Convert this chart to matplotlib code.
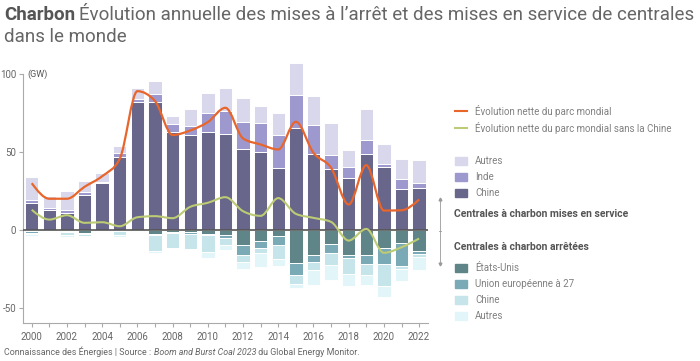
import numpy as np
import matplotlib
matplotlib.use("Agg")
import matplotlib.pyplot as plt
from matplotlib.path import Path
from matplotlib.patches import PathPatch, Rectangle
from matplotlib.lines import Line2D

plt.rcParams['font.family'] = ['Roboto', 'DejaVu Sans']

years = list(range(2000, 2023))

# mises en service (GW)
svc_chine = [17.5, 13, 11, 22.5, 30, 47, 82, 82.5, 63, 61, 63, 61.5,
             52, 50, 40, 65.5, 49, 39, 33.5, 48.5, 40.5, 26, 27]
svc_inde = [1.5, 1, 2, 1.7, 0.5, 2.5, 2, 5, 5, 5.5, 12, 15,
            17.5, 18.5, 21, 21, 18.5, 9, 7, 9, 2, 6.5, 3]
svc_autres = [15, 8, 12, 7.5, 6, 4.5, 7.5, 8, 5, 11, 13, 15,
              15, 11, 14, 21, 18.5, 20.5, 11, 20, 13, 13, 15]

# mises a l'arret (GW)
ret_us = [-1, -0.5, -1, -2, -0.5, -0.5, -1, -3, -1.5, -1.5, -2.5, -3.5,
          -10, -7, -4, -21.5, -16, -9, -16, -16, -12, -8.5, -13.5]
ret_ue = [-1, -0.3, -0.5, -0.5, -0.5, -0.5, -0.5, -0.5, -0.5, -1, -1, -1.5,
          -6, -5, -5.5, -7.5, -5, -6, -2, -6, -10, -14.5, -2]
ret_chine = [-1, -0.3, -2, -1.5, -0.5, -2.5, -0.3, -10, -9.5, -10, -10.5, -4.5,
             -4.5, -3, -9, -6, -5, -7.5, -10.5, -7, -14, -2, -2]
ret_autres = [-1, -0.3, -1, -0.5, -0.5, -1, -0.3, -1.5, -0.5, -0.5, -4, -3.5,
              -4.5, -9, -4.5, -2.5, -9.5, -9.5, -7.5, -6.5, -7.5, -8, -8.5]

net_monde = [30, 20, 20, 27.7, 34.5, 45.7, 89.2, 82.8, 61, 63.9, 69.3, 78.5,
             58.8, 54.9, 51.7, 69.5, 49.5, 39.9, 16.3, 41.6, 12.4, 12.6, 19.5]
net_sans_chine = [12.9, 6.6, 9.4, 4.5, 4.9, 2.3, 8.1, 8.8, 7.5, 14.8, 17.4, 21,
                  12, 9, 20.4, 10.3, 7.7, 5.1, -6.9, 0.6, -14.8, -11.2, -5.6]

C_SVC = ['#68668a', '#9d99cf', '#d8d7eb']
C_RET = ['#608589', '#7aaab6', '#c6e5eb', '#e2f5f8']
ORANGE = '#e8652c'
GREEN = '#bccb74'


def monotone_path(x, y):
    # courbe lissee type "monotoneX" en segments de Bezier
    x = np.asarray(x, float)
    y = np.asarray(y, float)
    n = len(x)
    h = np.diff(x)
    s = np.diff(y) / h
    m = np.zeros(n)
    for i in range(1, n - 1):
        if s[i - 1] * s[i] <= 0:
            m[i] = 0
        else:
            p = (s[i - 1] * h[i] + s[i] * h[i - 1]) / (h[i - 1] + h[i])
            m[i] = (np.sign(s[i - 1]) + np.sign(s[i])) * min(abs(s[i - 1]), abs(s[i]), 0.5 * abs(p))
    m[0] = (3 * s[0] - m[1]) / 2
    m[-1] = (3 * s[-1] - m[-2]) / 2
    verts = [(x[0], y[0])]
    codes = [Path.MOVETO]
    for i in range(n - 1):
        d = h[i] / 3
        verts += [(x[i] + d, y[i] + m[i] * d), (x[i + 1] - d, y[i + 1] - m[i + 1] * d), (x[i + 1], y[i + 1])]
        codes += [Path.CURVE4] * 3
    return Path(verts, codes)


fig = plt.figure(figsize=(7, 3.61), dpi=100)
ax = fig.add_axes([0.0333, 0.105, 0.578, 0.732])

w = 0.76
bot = np.zeros(len(years))
for vals, c in zip([svc_chine, svc_inde, svc_autres], C_SVC):
    ax.bar(years, vals, w, bottom=bot, color=c, edgecolor='white', linewidth=0.7, zorder=2)
    bot += np.array(vals)
bot = np.zeros(len(years))
for vals, c in zip([ret_us, ret_ue, ret_chine, ret_autres], C_RET):
    ax.bar(years, vals, w, bottom=bot, color=c, edgecolor='white', linewidth=0.7, zorder=2)
    bot += np.array(vals)

ax.axhline(0, color='#555555', lw=1.2, zorder=3)
ax.add_patch(PathPatch(monotone_path(years, net_sans_chine), fc='none', ec=GREEN, lw=1.5, zorder=4))
ax.add_patch(PathPatch(monotone_path(years, net_monde), fc='none', ec=ORANGE, lw=1.6, zorder=5))

ax.set_xlim(1999.52, 2022.5)
ax.set_ylim(-60, 110)
for sp in ['top', 'right']:
    ax.spines[sp].set_visible(False)
ax.spines['left'].set_bounds(-60, 100)
ax.spines['left'].set_color('#aaaaaa')
ax.spines['bottom'].set_color('#aaaaaa')
ax.set_yticks([100, 50, 0, -50])
ax.set_yticklabels(['100', '50', '0', '-50'])
ax.set_xticks(years, minor=True)
ax.set_xticks(years[::2])
ax.tick_params(axis='both', colors='#aaaaaa', labelcolor='#666666', labelsize=7, length=3, width=0.8)
ax.tick_params(axis='x', which='minor', colors='#aaaaaa', length=3, width=0.8)
ax.tick_params(axis='y', pad=2)
ax.text(1999.75, 100, '(GW)', fontsize=6.5, color='#555555', va='center', ha='left')

# titre
fig.canvas.draw()
r = fig.canvas.get_renderer()
t1 = fig.text(0.006, 0.945, 'Charbon', fontsize=13.5, fontweight='bold', color='#555555', va='baseline')
bb = t1.get_window_extent(r)
fig.text(bb.x1 / 700 + 0.005, 0.945, "Évolution annuelle des mises à l’arrêt et des mises en service de centrales",
         fontsize=13.5, color='#666666', va='baseline')
fig.text(0.006, 0.885, 'dans le monde', fontsize=13.5, color='#666666', va='baseline')

# source
f1 = fig.text(0.006, 0.018, 'Connaissance des Énergies | Source : ', fontsize=6.4, color='#666666')
bb = f1.get_window_extent(r)
f2 = fig.text(bb.x1 / 700, 0.018, 'Boom and Burst Coal 2023', fontsize=6.4, color='#666666', style='italic')
bb = f2.get_window_extent(r)
fig.text(bb.x1 / 700, 0.018, ' du Global Energy Monitor.', fontsize=6.4, color='#666666')


# legende
def fy(py):
    return 1 - py / 361


def fx(px):
    return px / 700


for py, c, lab in [(111, ORANGE, 'Évolution nette du parc mondial'),
                   (128, GREEN, 'Évolution nette du parc mondial sans la Chine')]:
    fig.add_artist(Line2D([fx(455), fx(467)], [fy(py), fy(py)], color=c, lw=1.5))
    fig.text(fx(475), fy(py), lab, fontsize=7, color='#808080', va='center')

leg_svc = [('Autres', C_SVC[2]), ('Inde', C_SVC[1]), ('Chine', C_SVC[0])]
for i, (lab, c) in enumerate(leg_svc):
    py = 161 + i * 16
    fig.add_artist(Rectangle((fx(455), fy(py + 4)), fx(12), 8 / 361, color=c))
    fig.text(fx(475), fy(py), lab, fontsize=7, color='#808080', va='center')

fig.text(fx(454), fy(214), 'Centrales à charbon mises en service', fontsize=7.5, fontweight='bold',
         color='#555555', va='center')
fig.text(fx(454), fy(247), 'Centrales à charbon arrêtées', fontsize=7.5, fontweight='bold',
         color='#555555', va='center')

leg_ret = [('États-Unis', C_RET[0]), ('Union européenne à 27', C_RET[1]), ('Chine', C_RET[2]), ('Autres', C_RET[3])]
for i, (lab, c) in enumerate(leg_ret):
    py = 268 + i * 16
    fig.add_artist(Rectangle((fx(455), fy(py + 4)), fx(12), 8 / 361, color=c))
    fig.text(fx(475), fy(py), lab, fontsize=7, color='#808080', va='center')

# fleche verticale
fig.add_artist(Line2D([fx(440), fx(440)], [fy(199), fy(264)], color='#999999', lw=0.6))
fig.add_artist(Line2D([fx(440)], [fy(199)], marker='^', ms=2, color='#999999'))
fig.add_artist(Line2D([fx(440)], [fy(264)], marker='v', ms=2, color='#999999'))
fig.add_artist(Line2D([fx(439), fx(441)], [fy(231), fy(231)], color='#999999', lw=0.6))

fig.savefig('out.png', dpi=100)
